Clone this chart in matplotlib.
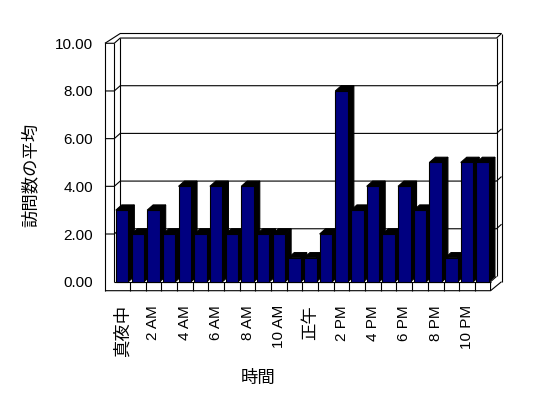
import matplotlib
matplotlib.use("Agg")
import matplotlib.pyplot as plt
from matplotlib.patches import Polygon, Rectangle

plt.rcParams['font.family'] = ['Liberation Sans', 'Noto Sans CJK JP', 'DejaVu Sans']

# ---- data ----
values = [3, 2, 3, 2, 4, 2, 4, 2, 4, 2, 2, 1, 1, 2, 8, 3, 4, 2, 4, 3, 5, 1, 5, 5]
tick_labels = ['真夜中', '2 AM', '4 AM', '6 AM', '8 AM', '10 AM',
               '正午', '2 PM', '4 PM', '6 PM', '8 PM', '10 PM']
y_ticks = [0, 2, 4, 6, 8, 10]
y_label = '訪問数の平均'
x_label = '時間'

# ---- style / geometry ----
BAR_COLOR = '#000080'
LW = 0.8
DX, DY = 0.38, 0.22      # depth offset (bars / wall)
DX2, DY2 = 0.32, 0.19    # wall thickness
WALL_W = 0.593
FLOOR_H = 0.378
n = len(values)
ymax = y_ticks[-1]

fig = plt.figure(figsize=(5.48, 3.98), dpi=100)
ax = fig.add_axes([0.1799, 0.2563, 0.7582, 0.6709])
ax.set_xlim(-1.0, 25.5)
ax.set_ylim(-0.6, 10.6)
for s in ax.spines.values():
    s.set_visible(False)
ax.patch.set_alpha(0)

def line(xs, ys, z=1):
    ax.plot(xs, ys, color='black', lw=LW, zorder=z, solid_capstyle='butt',
            clip_on=False)

# back wall gridlines and wall edges
for v in y_ticks[1:-1]:
    line([-WALL_W, 0, DX, n + DX, n + DX + DX2],
         [v, v, v + DY, v + DY, v + DY + DY2])
# top edges
line([-WALL_W, 0, DX, n + DX, n + DX + DX2],
     [ymax, ymax, ymax + DY, ymax + DY, ymax + DY + DY2])
line([-WALL_W, DX, n + DX + DX2],
     [ymax, ymax + DY + DY2, ymax + DY + DY2])
# verticals
line([-WALL_W, -WALL_W], [-FLOOR_H, ymax])
line([0, 0], [0, ymax])
line([DX, DX], [DY, ymax + DY])
line([n + DX, n + DX], [DY, ymax + DY])
line([n + DX + DX2, n + DX + DX2], [0, ymax + DY + DY2])
# floor
line([-WALL_W, n, n + DX + DX2], [-FLOOR_H, -FLOOR_H, 0])
line([0, n], [0, 0])
line([n, n, n + DX], [-FLOOR_H, 0, DY])
for k in range(1, n):
    line([k, k], [-FLOOR_H, 0])

# bars
for i, v in enumerate(values):
    z = 3 + i
    x0, x1 = i + 0.1, i + 0.9
    side = Polygon([(x1, 0), (x1 + DX, DY), (x1 + DX, v + DY), (x1, v)],
                   closed=True, facecolor='black', edgecolor='black', lw=LW, zorder=z)
    top = Polygon([(x0, v), (x0 + DX, v + DY), (x1 + DX, v + DY), (x1, v)],
                  closed=True, facecolor='black', edgecolor='black', lw=LW, zorder=z)
    front = Rectangle((x0, 0), x1 - x0, v, facecolor=BAR_COLOR,
                      edgecolor='black', lw=LW, zorder=z + 0.5)
    ax.add_patch(side)
    ax.add_patch(top)
    ax.add_patch(front)

# ticks
ax.set_yticks(y_ticks)
ax.set_yticklabels([f'{t:.2f}' for t in y_ticks])
ax.set_xticks([2 * j + 0.5 for j in range(len(tick_labels))])
ax.set_xticklabels(tick_labels, rotation=90, va='top', ha='center')
ax.tick_params(axis='y', length=0, pad=4, labelsize=11)
ax.tick_params(axis='x', length=0, pad=6.5, labelsize=11)
for lab in ax.get_xticklabels():
    if any(ord(c) > 0x2000 for c in lab.get_text()):
        lab.set_fontsize(12.5)

fig.text(30 / 548, 1 - 175 / 398, y_label, rotation=90, ha='center', va='center',
         fontsize=12.5)
fig.text(258 / 548, 1 - 378 / 398, x_label, ha='center', va='center', fontsize=12.5)

fig.savefig('out.png', dpi=100, facecolor='white')
